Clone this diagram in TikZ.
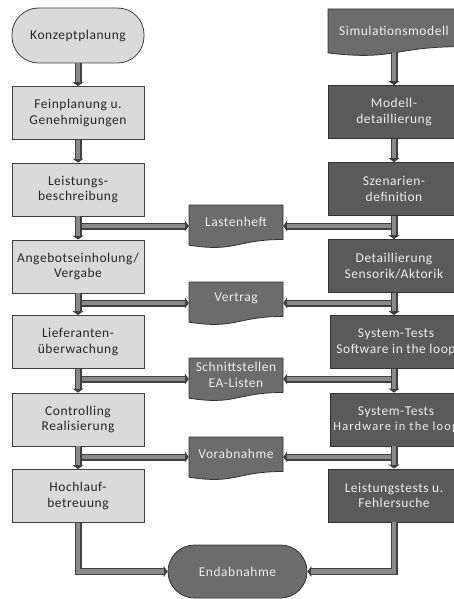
\documentclass[tikz,border=0pt]{standalone}
\usepackage{fontspec}
\setmainfont{Carlito}[LetterSpace=4]
\usetikzlibrary{arrows.meta,calc}
\definecolor{lightfill}{HTML}{DADADA}
\definecolor{darkfill}{HTML}{5A5A5A}
\definecolor{docfill}{HTML}{6C6C6C}
\definecolor{edgecol}{HTML}{404040}
\definecolor{connfill}{HTML}{8A8A8A}
\definecolor{darktext}{HTML}{EDEDED}
\newcommand{\docshape}[4]{% xl, yt, w, h
  \pgfmathsetmacro\docXr{#1+#3}%
  \pgfmathsetmacro\docXm{#1+0.5*#3}%
  \pgfmathsetmacro\docYr{#2+0.802*#4}%
  \pgfmathsetmacro\docYc{#2+1.107*#4}%
  \pgfmathsetmacro\docYl{#2+0.934*#4}%
  \draw[docstyle] (#1,#2) -- (\docXr,#2) -- (\docXr,\docYr) .. controls (\docXm,\docYr) and (\docXm,\docYc) .. (#1,\docYl) -- cycle;}
\begin{document}
\begin{tikzpicture}[x=1pt,y=-1pt,
  font=\fontsize{13.5}{15.5}\selectfont,
  lbox/.style={draw=edgecol, fill=lightfill, line width=0.8pt, minimum width=132pt,
    minimum height=53pt, align=center, text=black!85, inner sep=0pt},
  rbox/.style={lbox, fill=darkfill, draw=black!80, text=darktext},
  termbox/.style={lbox, rounded corners=26.5pt},
  endbox/.style={lbox, fill=docfill, draw=black!80, text=darktext, rounded corners=26.5pt,
    minimum width=139pt},
  docstyle/.style={draw=black!80, fill=docfill, line width=0.8pt},
  doclabel/.style={minimum width=94pt, minimum height=30pt, align=center, text=darktext, inner sep=0pt},
  conn/.style={line width=7pt, draw=edgecol, line join=miter,
    -{Triangle[width=11pt,length=4pt]},
    postaction={draw=connfill, line width=4.6pt, -, shorten >=4pt}},
]
\useasboundingbox (0,0) rectangle (454,599);
\clip (0,0) rectangle (454,599);

% documents (shapes)
\docshape{328}{9}{132}{47}
\docshape{189}{205}{94}{43}
\docshape{189}{282}{94}{43}
\docshape{189}{358}{94}{43}
\docshape{189}{437}{94}{43}

% left column
\node[termbox, minimum height=55pt] (konz) at (78,35.5) {Konzeptplanung};
\node[lbox] (fein) at (78,113) {Feinplanung u.\\Genehmigungen};
\node[lbox] (leis) at (78,189.5) {Leistungs-\\beschreibung};
\node[lbox] (ange) at (78,266.5) {Angebotseinholung/\\Vergabe};
\node[lbox] (lief) at (78,342) {Lieferanten-\\überwachung};
\node[lbox] (cont) at (78,419.5) {Controlling\\Realisierung};
\node[lbox] (hoch) at (78,496) {Hochlauf-\\betreuung};

% right column
\node[doclabel, minimum width=132pt, minimum height=42pt] (simu) at (394,31) {Simulationsmodell};
\node[rbox] (mode) at (394,112) {Modell-\\detaillierung};
\node[rbox] (szen) at (394,189) {Szenarien-\\definition};
\node[rbox] (deta) at (394,266) {Detaillierung\\Sensorik/Aktorik};
\node[rbox] (sil) at (396,342) {System-Tests\\Software in the loop};
\node[rbox] (hil) at (396,419.5) {System-Tests\\{\fontsize{12.5}{15.5}\selectfont\addfontfeature{LetterSpace=9}Hardware in the loop}};
\node[rbox] (ltst) at (394,495.5) {Leistungstests u.\\Fehlersuche};

% middle documents (labels)
\node[doclabel] (last) at (236,222) {Lastenheft};
\node[doclabel] (vert) at (236,298) {Vertrag};
\node[doclabel] (schn) at (236,375) {Schnittstellen\\EA-Listen};
\node[doclabel] (vora) at (236,454) {Vorabnahme};

% end
\node[endbox] (endn) at (237.5,571.5) {Endabnahme};

% branch points
\coordinate (bl1) at (78,226);
\coordinate (bl2) at (78,303);
\coordinate (bl3) at (78,379);
\coordinate (bl4) at (78,457);
\coordinate (br1) at (394,226);
\coordinate (br2) at (394,303);
\coordinate (br3) at (394,379);
\coordinate (br4) at (394,457);

% branches
\draw[conn] (bl1) -- (bl1 -| last.west);
\draw[conn] (bl2) -- (bl2 -| vert.west);
\draw[conn] (bl3) -- (bl3 -| schn.west);
\draw[conn] (bl4) -- (bl4 -| vora.west);
\draw[conn] (br1) -- (br1 -| last.east);
\draw[conn] (br2) -- (br2 -| vert.east);
\draw[conn] (br3) -- (br3 -| schn.east);
\draw[conn] (br4) -- (br4 -| vora.east);

% left vertical chain
\draw[conn] (konz.south) -- (fein.north);
\draw[conn] (fein.south) -- (leis.north);
\draw[conn] (leis.south) -- (ange.north);
\draw[conn] (ange.south) -- (lief.north);
\draw[conn] (lief.south) -- (cont.north);
\draw[conn] (cont.south) -- (hoch.north);
\draw[conn] (hoch.south) |- (endn.west);

% right vertical chain
\draw[conn] (simu.south) -- (mode.north);
\draw[conn] (mode.south) -- (szen.north);
\draw[conn] (szen.south) -- (deta.north);
\draw[conn] (deta.south) -- (deta.south |- sil.north);
\draw[conn] (deta.south |- sil.south) -- (deta.south |- hil.north);
\draw[conn] (deta.south |- hil.south) -- (ltst.north);
\draw[conn] (ltst.south) |- (endn.east);
\end{tikzpicture}
\end{document}
